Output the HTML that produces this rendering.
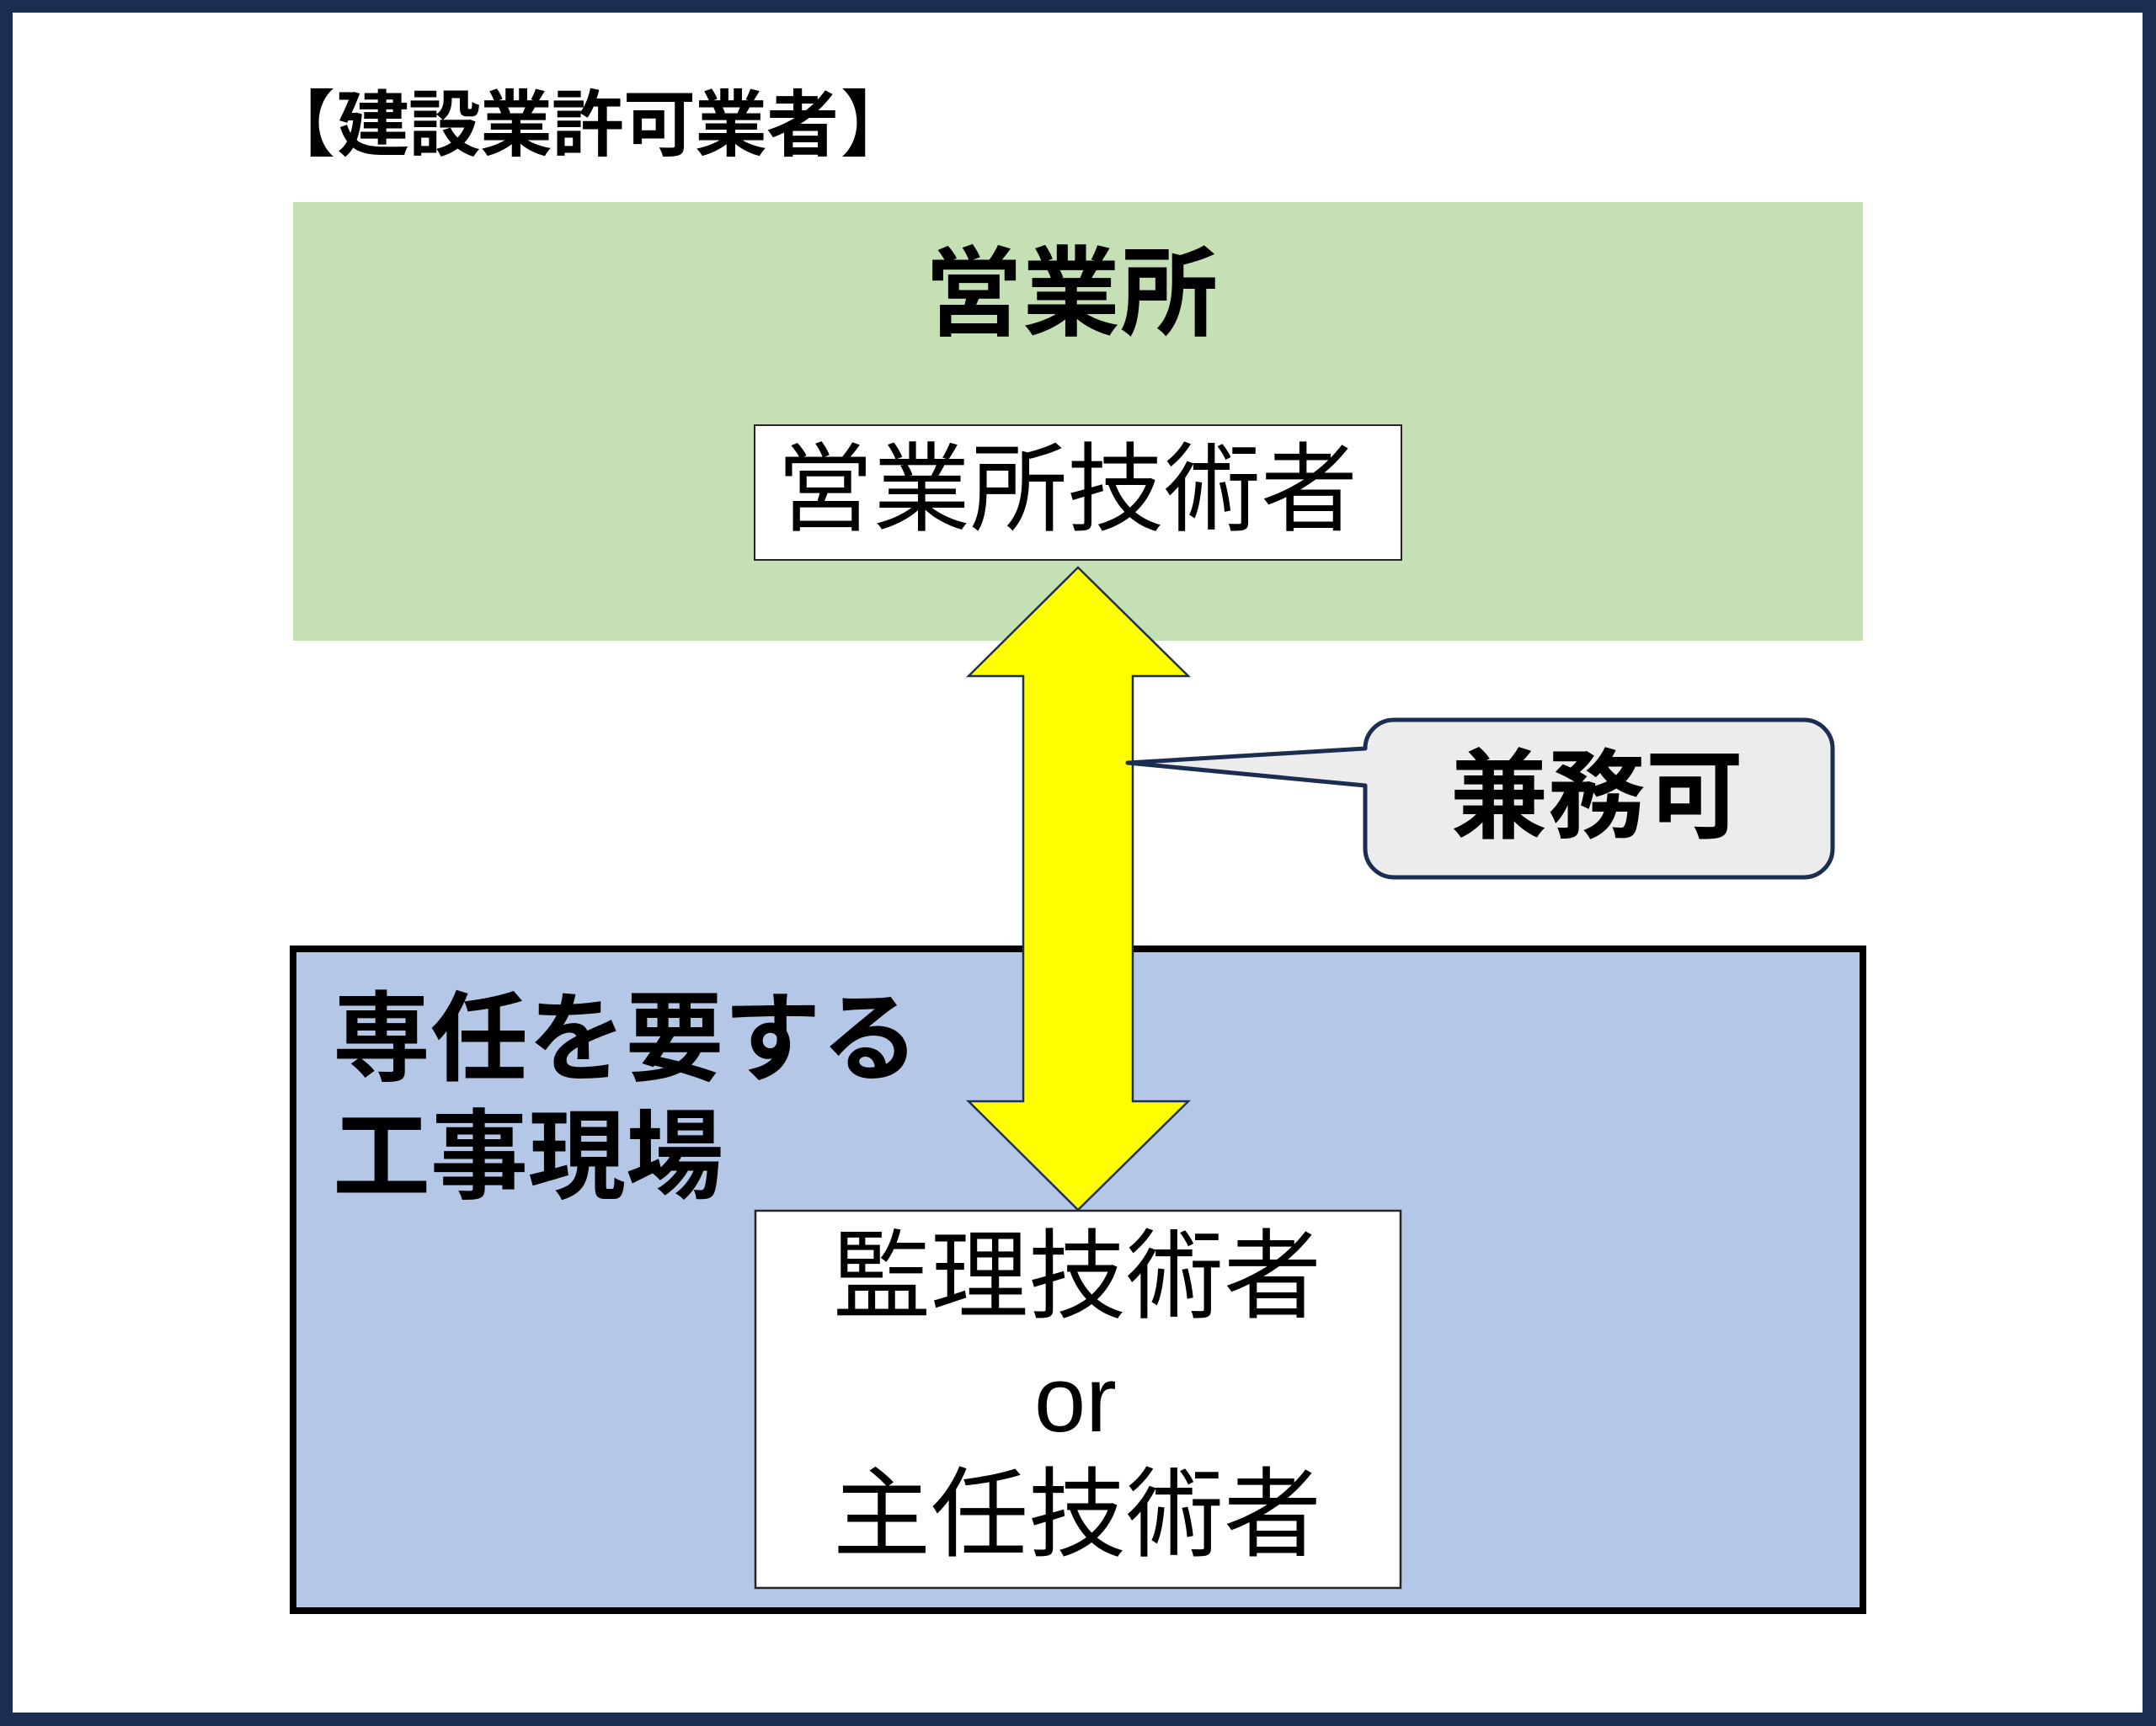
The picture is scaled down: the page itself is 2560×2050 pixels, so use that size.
<!DOCTYPE html>
<html lang="ja">
<head>
<meta charset="utf-8">
<title>建設業許可業者</title>
<style>
  html, body { margin: 0; padding: 0; background: #ffffff; }
  body { width: 2560px; height: 2050px; overflow: hidden; }
  svg { display: block; }
  .b { font-family: "Liberation Sans", "Noto Sans CJK JP", sans-serif; font-weight: 700; fill: #000; }
  .r { font-family: "Liberation Sans", "Noto Sans CJK JP", sans-serif; font-weight: 400; fill: #000; }
  .lat { font-family: "Liberation Sans", sans-serif; font-weight: 400; fill: #000; }
</style>
</head>
<body>
<svg width="2560" height="2050" viewBox="0 0 2560 2050" xmlns="http://www.w3.org/2000/svg">
  <!-- outer frame -->
  <rect x="0" y="0" width="2560" height="2050" fill="#1b2d50"/>
  <rect x="15" y="15" width="2529" height="2019" fill="#ffffff"/>

  <!-- title -->
  <text class="b" x="312" y="178" font-size="86">【</text>
  <text class="b" x="400" y="178" font-size="86" letter-spacing="-1">建設業許可業者</text>
  <text class="b" x="998" y="178" font-size="86">】</text>

  <!-- green office area -->
  <rect x="348" y="240" width="1864" height="521" fill="#c5e0b4"/>
  <text class="b" x="1098" y="389" font-size="116">営業所</text>

  <!-- office engineer box -->
  <rect x="896" y="505" width="768" height="160" fill="#ffffff" stroke="#262626" stroke-width="2"/>
  <text class="r" x="922" y="621" font-size="115">営業所技術者</text>

  <!-- blue site area -->
  <rect x="348" y="1127" width="1864" height="786" fill="#b4c7e7" stroke="#000000" stroke-width="8"/>
  <text class="b" x="395" y="1274" font-size="116">専任を要する</text>
  <text class="b" x="395" y="1414" font-size="116">工事現場</text>

  <!-- site engineer box -->
  <rect x="897" y="1438" width="766" height="448" fill="#ffffff" stroke="#262626" stroke-width="2.5"/>
  <text class="r" x="989" y="1556" font-size="116">監理技術者</text>
  <text class="lat" x="1228" y="1700" font-size="110">or</text>
  <text class="r" x="989" y="1839" font-size="116">主任技術者</text>

  <!-- double-headed arrow -->
  <polygon points="1280,674 1411,803 1345,803 1345,1308 1411,1308 1280,1437 1150,1308 1215,1308 1215,803 1150,803"
           fill="#ffff00" stroke="#1f3050" stroke-width="2.5" stroke-linejoin="miter"/>

  <!-- callout -->
  <path d="M 1655 855 H 2142 A 34 34 0 0 1 2176 889 V 1008 A 34 34 0 0 1 2142 1042 H 1655 A 34 34 0 0 1 1621 1008 V 933 L 1339 906 L 1621 889 A 34 34 0 0 1 1655 855 Z"
        fill="#ececec" stroke="#1b2d50" stroke-width="5" stroke-linejoin="round"/>
  <text class="b" x="1722" y="986" font-size="116">兼務可</text>
</svg>
</body>
</html>
